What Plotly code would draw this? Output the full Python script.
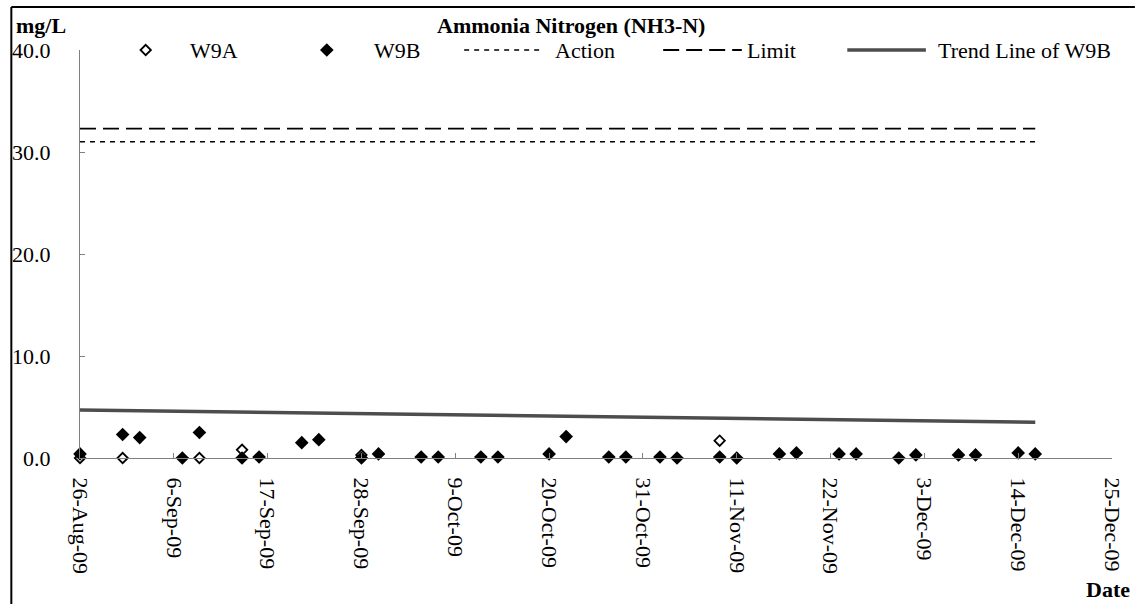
import plotly.graph_objects as go

# ---------------- data ----------------
w9b_dates = ["2009-08-26", "2009-08-31", "2009-09-02", "2009-09-07", "2009-09-09",
             "2009-09-14", "2009-09-16", "2009-09-21", "2009-09-23", "2009-09-28",
             "2009-09-30", "2009-10-05", "2009-10-07", "2009-10-12", "2009-10-14",
             "2009-10-20", "2009-10-22", "2009-10-27", "2009-10-29", "2009-11-02",
             "2009-11-04", "2009-11-09", "2009-11-11", "2009-11-16", "2009-11-18",
             "2009-11-23", "2009-11-25", "2009-11-30", "2009-12-02", "2009-12-07",
             "2009-12-09", "2009-12-14", "2009-12-16"]
w9b_values = [0.4, 2.3, 2.0, 0.0, 2.5, 0.0, 0.1, 1.5, 1.8, 0.0,
              0.4, 0.1, 0.1, 0.1, 0.1, 0.4, 2.1, 0.1, 0.1, 0.1,
              0.0, 0.1, 0.0, 0.4, 0.5, 0.4, 0.4, 0.0, 0.3, 0.3,
              0.3, 0.5, 0.4]

w9a_dates = ["2009-08-26", "2009-08-31", "2009-09-09", "2009-09-14", "2009-09-28", "2009-11-09"]
w9a_values = [0.0, 0.0, 0.0, 0.8, 0.3, 1.7]

action_level = 31.0
limit_level = 32.3
trend_dates = ["2009-08-26", "2009-12-16"]
trend_values = [4.7, 3.5]

tick_dates = ["2009-08-26", "2009-09-06", "2009-09-17", "2009-09-28", "2009-10-09",
              "2009-10-20", "2009-10-31", "2009-11-11", "2009-11-22", "2009-12-03",
              "2009-12-14", "2009-12-25"]
tick_labels = ["26-Aug-09", "6-Sep-09", "17-Sep-09", "28-Sep-09", "9-Oct-09",
               "20-Oct-09", "31-Oct-09", "11-Nov-09", "22-Nov-09", "3-Dec-09",
               "14-Dec-09", "25-Dec-09"]
y_ticks = [0, 10, 20, 30, 40]

title_text = "Ammonia Nitrogen (NH3-N)"
legend_names = ["W9A", "W9B", "Action", "Limit", "Trend Line of W9B"]

# ---------------- layout constants (pixels) ----------------
FW, FH = 1137, 604
L, R, T, B = 77, 1114, 50, 458
PW, PH = R - L, B - T
FONT = "Liberation Serif"
FS = 22
ACTION_DASH = "5px,5px"
LIMIT_DASH = "16px,7px"
TREND_COLOR = "#4d4d4d"


def px(xp):
    return (xp - L) / PW


def py(yp):
    return (B - yp) / PH


fig = go.Figure()

fig.add_trace(go.Scatter(x=trend_dates, y=trend_values, mode="lines",
                         line=dict(color=TREND_COLOR, width=3.5), showlegend=False))
fig.add_trace(go.Scatter(x=[w9b_dates[0], w9b_dates[-1]], y=[action_level, action_level],
                         mode="lines", line=dict(color="black", width=1.5, dash=ACTION_DASH),
                         showlegend=False))
fig.add_trace(go.Scatter(x=[w9b_dates[0], w9b_dates[-1]], y=[limit_level, limit_level],
                         mode="lines", line=dict(color="black", width=1.8, dash=LIMIT_DASH),
                         showlegend=False))
fig.add_trace(go.Scatter(x=w9a_dates, y=w9a_values, mode="markers",
                         marker=dict(symbol="diamond-open", size=8, color="black",
                                     line=dict(width=1.8, color="black")),
                         cliponaxis=False, showlegend=False))
fig.add_trace(go.Scatter(x=w9b_dates, y=w9b_values, mode="markers",
                         marker=dict(symbol="diamond", size=10.5, color="black"),
                         cliponaxis=False, showlegend=False))

# ---------- manual legend row ----------
leg_y = 50
fig.add_trace(go.Scatter(x=[px(143)], y=[py(leg_y)], xaxis="x2", yaxis="y2", mode="markers",
                         marker=dict(symbol="diamond-open", size=8, color="black",
                                     line=dict(width=1.8, color="black")),
                         cliponaxis=False, showlegend=False, hoverinfo="skip"))
fig.add_trace(go.Scatter(x=[px(325)], y=[py(leg_y)], xaxis="x2", yaxis="y2", mode="markers",
                         marker=dict(symbol="diamond", size=10.5, color="black"),
                         cliponaxis=False, showlegend=False, hoverinfo="skip"))

shapes = [
    dict(type="line", xref="paper", yref="paper", x0=px(463), x1=px(543), y0=py(leg_y), y1=py(leg_y),
         line=dict(color="black", width=1.5, dash=ACTION_DASH)),
    dict(type="line", xref="paper", yref="paper", x0=px(663), x1=px(742), y0=py(leg_y), y1=py(leg_y),
         line=dict(color="black", width=1.8, dash=LIMIT_DASH)),
    dict(type="line", xref="paper", yref="paper", x0=px(848), x1=px(927), y0=py(leg_y), y1=py(leg_y),
         line=dict(color=TREND_COLOR, width=3.5)),
    # chart border (left + top)
    dict(type="line", xref="paper", yref="paper", x0=px(8), x1=px(8), y0=py(604), y1=py(7),
         line=dict(color="black", width=2)),
    dict(type="line", xref="paper", yref="paper", x0=px(8), x1=px(1137), y0=py(7), y1=py(7),
         line=dict(color="black", width=2)),
]

ann = []
leg_text_x = [186, 370, 552, 745, 937]
for name, xt in zip(legend_names, leg_text_x):
    ann.append(dict(text=name, xref="paper", yref="paper", x=px(xt), y=py(leg_y),
                    xanchor="left", yanchor="middle", showarrow=False,
                    font=dict(family=FONT, size=FS, color="black")))
ann.append(dict(text="<b>" + title_text + "</b>", xref="paper", yref="paper", x=px(570), y=py(25),
                xanchor="center", yanchor="middle", showarrow=False,
                font=dict(family=FONT, size=FS, color="black")))
ann.append(dict(text="<b>mg/L</b>", xref="paper", yref="paper", x=px(11), y=py(26),
                xanchor="left", yanchor="middle", showarrow=False,
                font=dict(family=FONT, size=FS, color="black")))
ann.append(dict(text="<b>Date</b>", xref="paper", yref="paper", x=px(1134), y=py(589),
                xanchor="right", yanchor="middle", showarrow=False,
                font=dict(family=FONT, size=FS, color="black")))

fig.update_layout(
    width=FW, height=FH,
    margin=dict(l=L, r=FW - R, t=T, b=FH - B, pad=0),
    paper_bgcolor="white", plot_bgcolor="white",
    showlegend=False,
    font=dict(family=FONT, size=FS, color="black"),
    xaxis=dict(type="date", range=[tick_dates[0], tick_dates[-1]],
               tickmode="array", tickvals=tick_dates, ticktext=tick_labels,
               tickangle=90, ticks="inside", ticklen=5, tickcolor="#808080",
               showline=True, linecolor="#808080", linewidth=1.2,
               showgrid=False, zeroline=False, ticklabelstandoff=14,
               tickfont=dict(family=FONT, size=FS, color="black")),
    yaxis=dict(range=[0, 40], tickmode="array", tickvals=y_ticks,
               ticktext=["%.1f" % v for v in y_ticks],
               ticks="inside", ticklen=5, tickcolor="#808080",
               showline=True, linecolor="#808080", linewidth=1.2,
               showgrid=False, zeroline=False, ticklabelstandoff=24,
               tickfont=dict(family=FONT, size=FS, color="black")),
    xaxis2=dict(overlaying="x", range=[0, 1], visible=False),
    yaxis2=dict(overlaying="y", range=[0, 1], visible=False),
    shapes=shapes,
    annotations=ann,
)

fig.write_html(
    "out.html",
    config={"displayModeBar": False},
    post_script="document.body.style.margin='0';document.body.style.padding='0';"
                "document.documentElement.style.overflow='hidden';document.body.style.overflow='hidden';",
)
